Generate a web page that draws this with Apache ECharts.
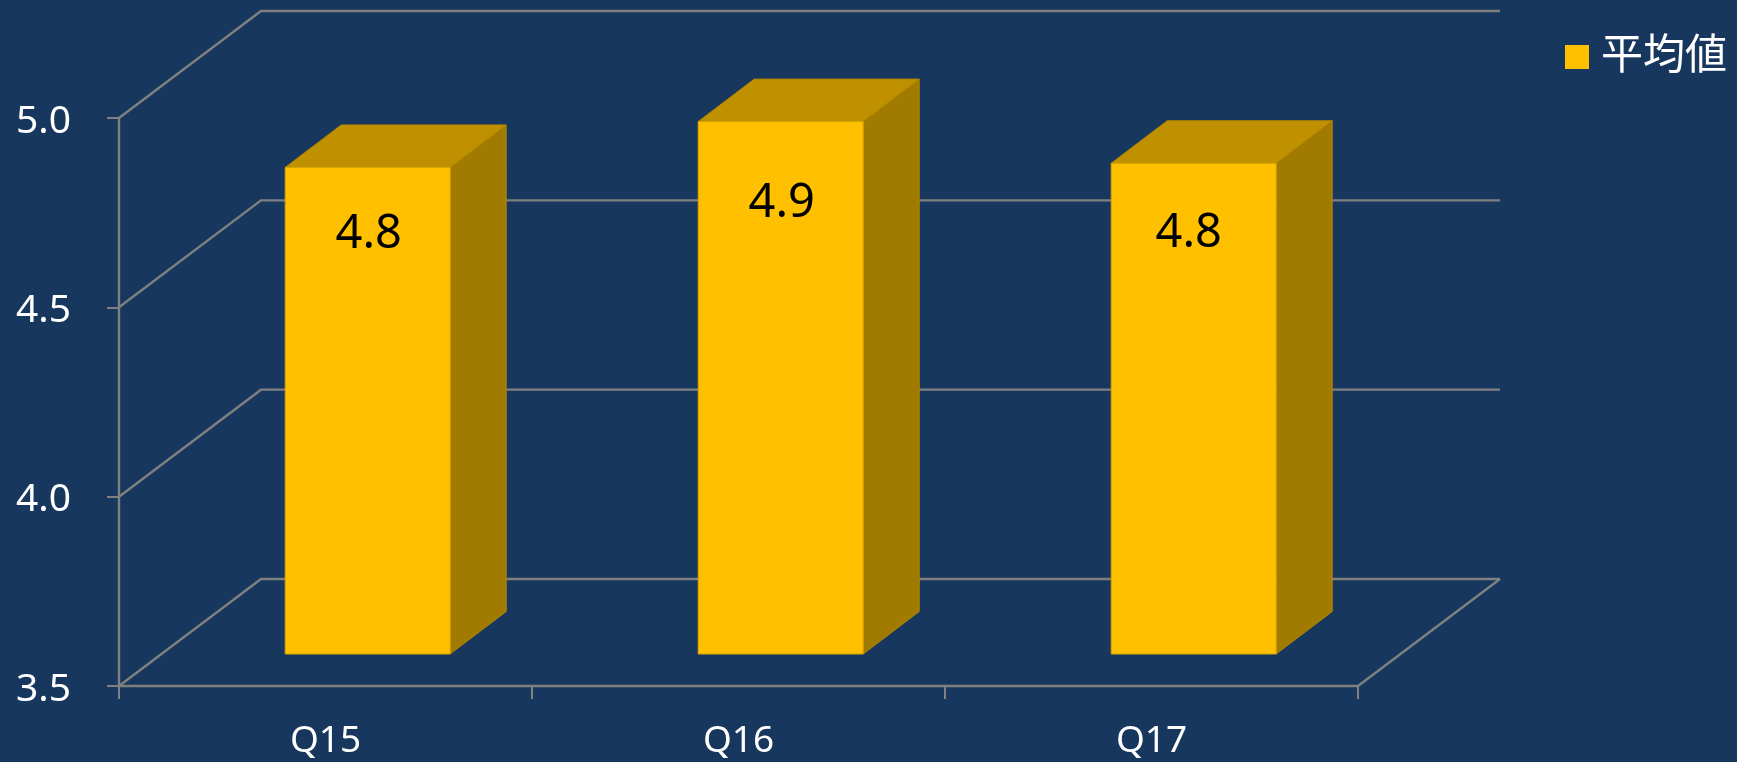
<!DOCTYPE html>
<html>
<head>
<meta charset="utf-8">
<title>平均値</title>
<style>
	html,body{margin:0;padding:0;background:#17375E;}
	#main{width:1737px;height:762px;}
</style>
<script src="https://cdn.jsdelivr.net/npm/echarts@6/dist/echarts.min.js"></script>
</head>
<body>
<div id="main"></div>
<script>
	// 数据
	var categories = ['Q15','Q16','Q17'];
	var seriesName = '平均値';
	var averages = [4.785,4.906,4.796];
	var yTicks = [3.5,4.0,4.5,5.0];

	// 3D效果的偏移量（单位px）
	var wallDx = 142, wallDy = 107;   // 背面墙相对坐标轴
	var barShiftX = 42.2, barShiftY = 32;   // 柱子在地面上的位置
	var barDepthX = 56, barDepthY = 42.5;
	var barWidth = 165;
	// 数据标签是手动挪过的，每个位置不一样
	var labelDx = [1,1,-5], labelDy = [67,82,70];

	var lineColor = '#808080';

	function poly(points,color){
		return {
			type:'polygon',
			shape:{points:points},
			style:{fill:color,stroke:'#B08600',lineWidth:1}
		};
	}

	// 背面墙的网格线 + 地面
	function renderWall(params,api){
		var left = params.coordSys.x, right = left + params.coordSys.width;
		var y = api.coord([0,api.value(1)])[1];
		var children = [{
			type:'polyline',
			shape:{points:[[left,y],[left+wallDx,y-wallDy],[right+wallDx,y-wallDy]]},
			style:{fill:null,stroke:lineColor,lineWidth:2.4}
		}];
		if(params.dataIndex === 0){
			children.push({
				type:'line',
				shape:{x1:right,y1:y,x2:right+wallDx,y2:y-wallDy},
				style:{stroke:lineColor,lineWidth:2.4}
			});
		}
		return {type:'group',children:children};
	}

	// 立体柱子
	function renderBar(params,api){
		var i = api.value(0);
		var top = api.coord([i,api.value(1)]);
		var base = api.coord([i,yTicks[0]]);
		var x0 = top[0] + barShiftX - barWidth/2, x1 = x0 + barWidth;
		var yTop = top[1] - barShiftY, yBase = base[1] - barShiftY;
		return {
			type:'group',
			children:[
				poly([[x1,yTop],[x1+barDepthX,yTop-barDepthY],[x1+barDepthX,yBase-barDepthY],[x1,yBase]],'#A17B00'),
				poly([[x0,yTop],[x0+barDepthX,yTop-barDepthY],[x1+barDepthX,yTop-barDepthY],[x1,yTop]],'#BF9000'),
				{
					type:'rect',
					shape:{x:x0,y:yTop,width:barWidth,height:yBase-yTop},
					style:{fill:'#FFC000',stroke:'#D9A400',lineWidth:1}
				},
				{
					type:'text',
					style:{
						x:(x0+x1)/2 + labelDx[i],
						y:yTop + labelDy[i],
						text:api.value(1).toFixed(1),
						fill:'#000',
						font:'47px "Noto Sans"',
						align:'center',
						verticalAlign:'middle'
					}
				}
			]
		};
	}

	var myChart = echarts.init(document.querySelector('#main'));
	var option = {
		animation:false,
		backgroundColor:'#17375E',
		textStyle:{fontFamily:'"Noto Sans"'},
		legend:{
			data:[seriesName],
			left:1560,
			top:27,
			icon:'rect',
			itemWidth:24,
			itemHeight:24,
			itemGap:0,
			selectedMode:false,
			formatter:'{a|{name}}',
			textStyle:{
				rich:{
					a:{color:'#fff',fontSize:42,fontFamily:'"Noto Sans CJK JP"',padding:[0,0,8,7]}
				}
			}
		},
		grid:{left:119,right:379,top:118,bottom:76},
		xAxis:{
			type:'category',
			data:categories,
			axisLine:{lineStyle:{color:lineColor,width:2.4}},
			axisTick:{show:true,alignWithLabel:false,length:13,lineStyle:{color:lineColor,width:2}},
			axisLabel:{color:'#fff',fontSize:37,margin:37}
		},
		yAxis:{
			type:'value',
			min:3.5,
			max:5,
			interval:0.5,
			splitLine:{show:false},
			axisLine:{show:true,lineStyle:{color:lineColor,width:2.4}},
			axisTick:{show:true,length:12,lineStyle:{color:lineColor,width:2}},
			axisLabel:{
				margin:48,
				formatter:function(v){return '{a|'+v.toFixed(1)+'}';},
				rich:{
					a:{color:'#fff',fontSize:39,padding:[7,0,0,0]}
				}
			}
		},
		series:[
			{
				type:'custom',
				renderItem:renderWall,
				encode:{x:0,y:1},
				silent:true,
				z:1,
				data:yTicks.map(function(v){return [0,v];})
			},
			{
				name:seriesName,
				type:'custom',
				renderItem:renderBar,
				encode:{x:0,y:1},
				itemStyle:{color:'#FFC000'},
				z:3,
				data:averages.map(function(v,i){return [i,v];})
			}
		]
	};
	myChart.setOption(option);
</script>
</body>
</html>
